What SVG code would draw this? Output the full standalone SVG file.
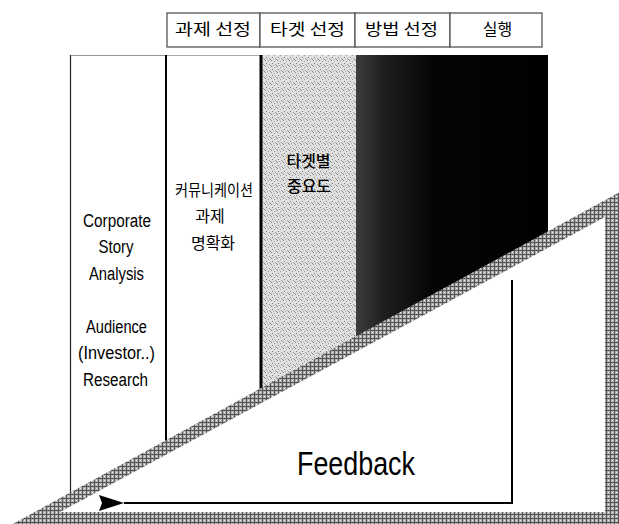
<svg xmlns="http://www.w3.org/2000/svg" width="619" height="524" viewBox="0 0 619 524">
<style>
.kr{font-family:"Noto Sans CJK KR","Noto Sans",sans-serif;fill:#000;text-anchor:middle}
.en{font-family:"Liberation Sans",Arial,sans-serif;fill:#000;text-anchor:middle}
.hbox{fill:#fff;stroke:#555;stroke-width:1.3}
</style>
<defs>
<pattern id="stip" width="6" height="6" patternUnits="userSpaceOnUse">
<rect width="6" height="6" fill="#e0e0e0"/>
<rect x="1" y="0" width="1" height="1" fill="#8a8a8a"/>
<rect x="4" y="1" width="1" height="1" fill="#999"/>
<rect x="2" y="3" width="1" height="1" fill="#7a7a7a"/>
<rect x="5" y="4" width="1" height="1" fill="#a0a0a0"/>
<rect x="0" y="5" width="1" height="1" fill="#888"/>
<rect x="3" y="5" width="1" height="1" fill="#b0b0b0"/>
</pattern>
<pattern id="check" width="4" height="4" patternUnits="userSpaceOnUse">
<rect width="4" height="4" fill="#b2b2b2"/>
<rect x="2" y="0" width="1" height="4" fill="#555"/>
<rect x="0" y="2" width="4" height="1" fill="#555"/>
<rect x="0" y="0" width="1" height="1" fill="#eee"/>
</pattern>
<linearGradient id="dark" x1="356" y1="0" x2="548" y2="0" gradientUnits="userSpaceOnUse">
<stop offset="0" stop-color="#3c3c3c"/>
<stop offset="0.15" stop-color="#1e1e1e"/>
<stop offset="0.4" stop-color="#050505"/>
<stop offset="1" stop-color="#000"/>
</linearGradient>
<marker id="ah" markerWidth="26" markerHeight="16" refX="1" refY="8" orient="auto" markerUnits="userSpaceOnUse">
<polygon points="1,8 26,0 23,8 26,16" fill="#000"/>
</marker>
</defs>
<rect width="619" height="524" fill="#fff"/>

<!-- header nodes -->
<g id="header-1">
<rect class="hbox" x="167" y="13" width="93" height="34"/>
<text class="kr" x="213" y="35" font-size="16" textLength="76" lengthAdjust="spacingAndGlyphs">과제 선정</text>
</g>
<g id="header-2">
<rect class="hbox" x="260" y="13" width="95" height="34"/>
<text class="kr" x="307.5" y="35" font-size="16" textLength="75" lengthAdjust="spacingAndGlyphs">타겟 선정</text>
</g>
<g id="header-3">
<rect class="hbox" x="355" y="13" width="95" height="34"/>
<text class="kr" x="401.5" y="35" font-size="16" textLength="73" lengthAdjust="spacingAndGlyphs">방법 선정</text>
</g>
<g id="header-4">
<rect class="hbox" x="450" y="13" width="92" height="34"/>
<text class="kr" x="497.5" y="35" font-size="16">실행</text>
</g>

<!-- columns -->
<g id="col-1">
<rect x="70" y="55" width="96" height="460" fill="#fff"/>
<line x1="70" y1="55.5" x2="166" y2="55.5" stroke="#999" stroke-width="1"/>
<line x1="70.5" y1="55" x2="70.5" y2="505" stroke="#222" stroke-width="1.2"/>
<text class="en" x="117" y="227" font-size="18" textLength="68" lengthAdjust="spacingAndGlyphs">Corporate</text>
<text class="en" x="116" y="253" font-size="18" textLength="35" lengthAdjust="spacingAndGlyphs">Story</text>
<text class="en" x="116.5" y="280" font-size="18" textLength="55" lengthAdjust="spacingAndGlyphs">Analysis</text>
<text class="en" x="116.5" y="333" font-size="18" textLength="61" lengthAdjust="spacingAndGlyphs">Audience</text>
<text class="en" x="116.5" y="359" font-size="18" textLength="77" lengthAdjust="spacingAndGlyphs">(Investor..)</text>
<text class="en" x="115.5" y="386" font-size="18" textLength="65" lengthAdjust="spacingAndGlyphs">Research</text>
</g>
<g id="col-2">
<rect x="166" y="55" width="95" height="460" fill="#fff"/>
<line x1="166" y1="55.5" x2="261" y2="55.5" stroke="#aaa" stroke-width="1"/>
<line x1="166" y1="55" x2="166" y2="460" stroke="#000" stroke-width="2"/>
<text class="kr" x="214" y="196" font-size="16" textLength="78" lengthAdjust="spacingAndGlyphs">커뮤니케이션</text>
<text class="kr" x="210" y="222" font-size="16">과제</text>
<text class="kr" x="213" y="249" font-size="16">명확화</text>
</g>
<g id="col-3">
<rect x="261" y="55" width="95" height="400" fill="url(#stip)"/>
<line x1="261" y1="55" x2="261" y2="400" stroke="#000" stroke-width="3"/>
<text class="kr" x="308.5" y="167" font-size="16" font-weight="500">타겟별</text>
<text class="kr" x="309" y="192" font-size="16" font-weight="500">중요도</text>
</g>
<g id="col-4">
<rect x="356" y="55" width="192" height="300" fill="url(#dark)"/>
</g>

<!-- feedback band -->
<g id="feedback">
<polygon points="0,531 618,193 619,193 619,524 0,524" fill="url(#check)"/>
<polygon points="60,512 605,217 605,512" fill="#fff"/>
<text class="en" x="356" y="475" font-size="34" textLength="118" lengthAdjust="spacingAndGlyphs">Feedback</text>
</g>

<!-- connectors -->
<g id="connectors">
<polyline points="512,280 512,503 124,503" fill="none" stroke="#000" stroke-width="2" marker-end="url(#ah)"/>
</g>
</svg>
